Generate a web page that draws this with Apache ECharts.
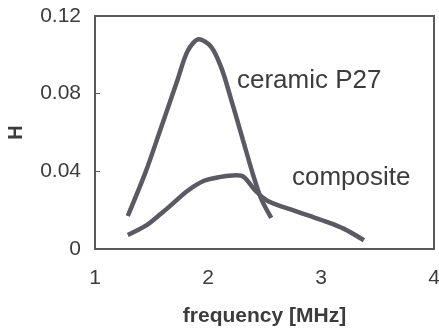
<!DOCTYPE html>
<html>
<head>
<meta charset="utf-8">
<script src="https://cdn.jsdelivr.net/npm/echarts@6/dist/echarts.min.js"></script>
<style>
  html, body { margin: 0; padding: 0; background: #fff; }
  #chart { width: 439px; height: 333px; }
</style>
</head>
<body>
<div id="chart"></div>
<script>
// frequency [MHz] / H pairs
const ceramicFreq = [1.29, 1.45, 1.57, 1.73, 1.82, 1.92, 2.03, 2.12, 2.2, 2.31, 2.4, 2.47, 2.56]
const ceramicH = [0.017, 0.040, 0.060, 0.087, 0.102, 0.108, 0.104, 0.093, 0.078, 0.056, 0.038, 0.026, 0.016]

const compositeFreq = [1.29, 1.45, 1.58, 1.7, 1.82, 1.96, 2.1, 2.25, 2.32, 2.42, 2.52, 2.6, 2.75, 2.9, 3.05, 3.2, 3.38]
const compositeH = [0.0072, 0.012, 0.018, 0.024, 0.030, 0.035, 0.037, 0.038, 0.037, 0.030, 0.025, 0.023, 0.020, 0.017, 0.014, 0.0105, 0.0045]

const yTicks = ['0', '0.04', '0.08', '0.12']

const lineColor = '#5b5a62'
const textColor = '#3c3c3c'

const zip = (xs, ys) => xs.map((x, i) => [x, ys[i]])

const chart = echarts.init(document.getElementById('chart'))
chart.setOption({
  animation: false,
  grid: {
    left: 95,
    top: 16,
    width: 339,
    height: 233,
    containLabel: false,
    outerBoundsMode: 'none',
    show: true,
    borderColor: '#5a5a5a',
    borderWidth: 2,
  },
  xAxis: {
    type: 'value',
    min: 1,
    max: 4,
    interval: 1,
    name: 'frequency [MHz]',
    nameLocation: 'middle',
    nameGap: 57,
    nameTextStyle: {
      color: textColor,
      fontFamily: 'Liberation Sans',
      fontWeight: 'bold',
      fontSize: 21,
    },
    axisLine: { lineStyle: { color: '#5a5a5a', width: 2 } },
    axisTick: { show: false },
    splitLine: { show: false },
    axisLabel: {
      color: textColor,
      fontFamily: 'Liberation Sans',
      fontSize: 21,
      margin: 19,
    },
  },
  yAxis: {
    type: 'value',
    min: 0,
    max: 0.12,
    interval: 0.04,
    name: 'H',
    nameLocation: 'middle',
    nameRotate: 90,
    nameGap: 69,
    nameTextStyle: {
      color: textColor,
      fontFamily: 'Liberation Sans',
      fontWeight: 'bold',
      fontSize: 20,
    },
    axisLine: { lineStyle: { color: '#5a5a5a', width: 2 } },
    axisTick: { inside: true, length: 5, lineStyle: { color: '#5a5a5a' } },
    splitLine: { show: false },
    axisLabel: {
      color: textColor,
      fontFamily: 'Liberation Sans',
      fontSize: 21,
      margin: 14,
      formatter: (v) => yTicks[Math.round(v / 0.04)],
    },
  },
  graphic: [
    {
      type: 'text',
      left: 237,
      top: 68,
      style: {
        text: 'ceramic P27',
        fill: textColor,
        font: '26px "Liberation Sans"',
      },
    },
    {
      type: 'text',
      left: 292,
      top: 165,
      style: {
        text: 'composite',
        fill: textColor,
        font: '26px "Liberation Sans"',
      },
    },
  ],
  series: [
    {
      name: 'ceramic P27',
      type: 'line',
      data: zip(ceramicFreq, ceramicH),
      smooth: 0.3,
      symbol: 'none',
      lineStyle: { color: lineColor, width: 4.5 },
    },
    {
      name: 'composite',
      type: 'line',
      data: zip(compositeFreq, compositeH),
      smooth: 0.3,
      symbol: 'none',
      lineStyle: { color: lineColor, width: 4.5 },
    },
  ],
})
</script>
</body>
</html>
